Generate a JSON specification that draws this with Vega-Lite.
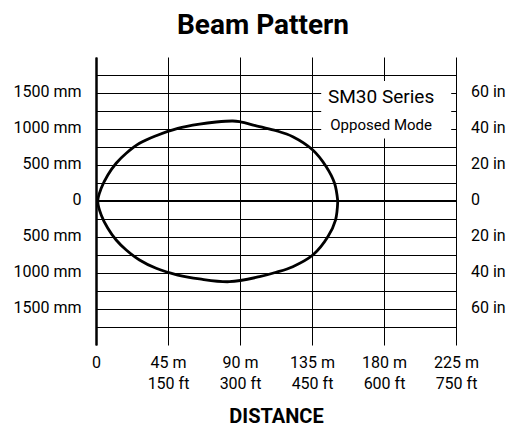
{
  "$schema": "https://vega.github.io/schema/vega-lite/v6.json",
  "width": 360,
  "height": 288,
  "autosize": "none",
  "padding": {"left": 96, "top": 57, "right": 60, "bottom": 85},
  "background": "white",
  "config": {"view": {"stroke": null}},
  "title": {"text": "Beam Pattern", "font": "Roboto", "fontSize": 28, "fontWeight": "bold", "color": "black", "anchor": "middle", "dx": -13, "offset": 17},
  "datasets": {
    "beam": [
      {"i": 0, "d": 151.1, "w": 0},
      {"i": 1, "d": 149.1, "w": 246},
      {"i": 2, "d": 143.9, "w": 476},
      {"i": 3, "d": 135.5, "w": 708},
      {"i": 4, "d": 123, "w": 893},
      {"i": 5, "d": 112.6, "w": 976},
      {"i": 6, "d": 102.2, "w": 1032},
      {"i": 7, "d": 89.7, "w": 1101},
      {"i": 8, "d": 85.5, "w": 1111},
      {"i": 9, "d": 75.1, "w": 1097},
      {"i": 10, "d": 64.7, "w": 1069},
      {"i": 11, "d": 51.1, "w": 1010},
      {"i": 12, "d": 37.6, "w": 907},
      {"i": 13, "d": 27.2, "w": 801},
      {"i": 14, "d": 18.9, "w": 663},
      {"i": 15, "d": 12.6, "w": 524},
      {"i": 16, "d": 7.4, "w": 361},
      {"i": 17, "d": 3.25, "w": 176},
      {"i": 18, "d": 1.1, "w": 0},
      {"i": 19, "d": 3.25, "w": -194},
      {"i": 20, "d": 7.4, "w": -379},
      {"i": 21, "d": 12.6, "w": -542},
      {"i": 22, "d": 18.9, "w": -681},
      {"i": 23, "d": 27.2, "w": -819},
      {"i": 24, "d": 37.6, "w": -935},
      {"i": 25, "d": 51.1, "w": -1028},
      {"i": 26, "d": 64.7, "w": -1083},
      {"i": 27, "d": 83.4, "w": -1121},
      {"i": 28, "d": 102.2, "w": -1051},
      {"i": 29, "d": 112.6, "w": -990},
      {"i": 30, "d": 123, "w": -912},
      {"i": 31, "d": 135.5, "w": -750},
      {"i": 32, "d": 144.9, "w": -496},
      {"i": 33, "d": 149.7, "w": -264},
      {"i": 34, "d": 151.1, "w": 0}
    ]
  },
  "layer": [
    {
      "data": {"name": "beam"},
      "mark": {"type": "line", "color": "black", "strokeWidth": 2.8, "interpolate": "catmull-rom"},
      "encoding": {
        "x": {
          "field": "d", "type": "quantitative",
          "scale": {"domain": [0, 225], "nice": false, "zero": false},
          "axis": {
            "values": [0, 45, 90, 135, 180, 225],
            "labelExpr": "datum.value == 0 ? '0' : [datum.value + ' m', (datum.value * 10 / 3) + ' ft']",
            "grid": true, "gridColor": "black", "gridOpacity": 1, "gridWidth": 1,
            "ticks": false, "domain": false,
            "labelFont": "Roboto", "labelFontSize": 16, "labelColor": "black",
            "labelPadding": 9, "labelLineHeight": 21.7, "labelOverlap": false, "labelFlush": false,
            "title": "DISTANCE", "titleFont": "Roboto", "titleFontSize": 20,
            "titleFontWeight": "bold", "titleColor": "black", "titlePadding": 15
          }
        },
        "y": {
          "field": "w", "type": "quantitative",
          "scale": {"domain": [-2000, 2000], "nice": false, "zero": false},
          "axis": {
            "orient": "left",
            "values": [-1750, -1500, -1250, -1000, -750, -500, -250, 0, 250, 500, 750, 1000, 1250, 1500, 1750],
            "labelExpr": "datum.value % 500 == 0 ? (datum.value == 0 ? '0' : abs(datum.value) + ' mm') : ''",
            "grid": true, "gridColor": "black", "gridOpacity": 1, "gridWidth": 1,
            "ticks": false, "domain": true, "domainColor": "black", "domainWidth": 2.5,
            "labelFont": "Roboto", "labelFontSize": 16, "labelColor": "black",
            "labelPadding": 15, "labelOffset": -2, "labelOverlap": false, "labelFlush": false,
            "title": null
          }
        },
        "order": {"field": "i", "type": "quantitative"}
      }
    },
    {
      "data": {"values": [{"k": 0}]},
      "mark": {"type": "rule", "color": "black", "strokeWidth": 2},
      "encoding": {
        "y": {
          "datum": 0, "type": "quantitative",
          "scale": {"domain": [-2000, 2000], "nice": false, "zero": false},
          "axis": {
            "orient": "right",
            "values": [-1500, -1000, -500, 0, 500, 1000, 1500],
            "labelExpr": "datum.value == 0 ? '0' : (abs(datum.value) / 25) + ' in'",
            "grid": false, "ticks": false, "domain": false,
            "labelFont": "Roboto", "labelFontSize": 16, "labelColor": "black",
            "labelPadding": 14.5, "labelOffset": -2, "labelOverlap": false, "labelFlush": false,
            "title": null
          }
        }
      }
    },
    {
      "data": {"values": [{"k": 0}]},
      "mark": {"type": "rect", "fill": "white"},
      "encoding": {
        "x": {"datum": 140.75, "type": "quantitative", "scale": {"domain": [0, 225], "nice": false, "zero": false}},
        "x2": {"datum": 222},
        "y": {"datum": 1667, "type": "quantitative", "scale": {"domain": [-2000, 2000], "nice": false, "zero": false}, "axis": null},
        "y2": {"datum": 868}
      }
    },
    {
      "data": {"values": [{"label": "SM30 Series"}]},
      "mark": {"type": "text", "font": "Roboto", "fontSize": 19, "color": "black", "align": "center", "baseline": "alphabetic"},
      "encoding": {
        "x": {"datum": 178.2, "type": "quantitative", "scale": {"domain": [0, 225], "nice": false, "zero": false}},
        "y": {"datum": 1357, "type": "quantitative", "scale": {"domain": [-2000, 2000], "nice": false, "zero": false}, "axis": null},
        "text": {"field": "label"}
      }
    },
    {
      "data": {"values": [{"label": "Opposed Mode"}]},
      "mark": {"type": "text", "font": "Roboto", "fontSize": 15, "color": "black", "align": "center", "baseline": "alphabetic"},
      "encoding": {
        "x": {"datum": 178.2, "type": "quantitative", "scale": {"domain": [0, 225], "nice": false, "zero": false}},
        "y": {"datum": 986, "type": "quantitative", "scale": {"domain": [-2000, 2000], "nice": false, "zero": false}, "axis": null},
        "text": {"field": "label"}
      }
    }
  ],
  "resolve": {"axis": {"y": "independent"}, "scale": {"y": "shared", "x": "shared"}}
}
